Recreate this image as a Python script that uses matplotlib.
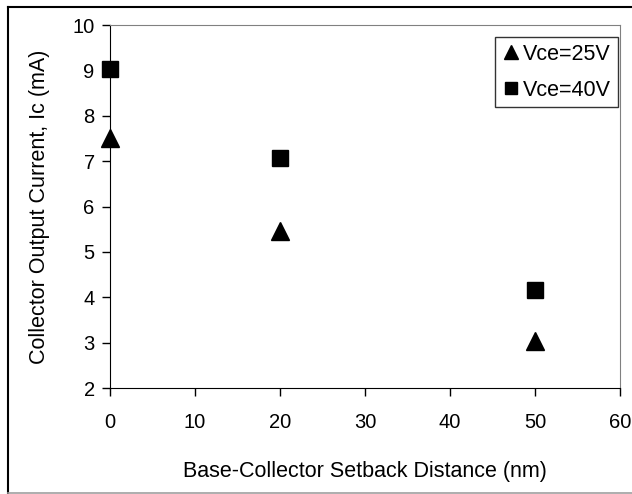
import matplotlib.pyplot as plt
from matplotlib.lines import Line2D

# --- datos ---
setback_nm = [0, 20, 50]
ic_25v = [7.52, 5.46, 3.04]
ic_40v = [9.02, 7.07, 4.15]

plt.rcParams['font.family'] = ['Liberation Sans', 'DejaVu Sans']
fs_ticks = 14.5
fs_label = 15.5

fig = plt.figure(figsize=(6.32, 4.94), dpi=100)
# marco exterior (izquierda y arriba negro, abajo gris; derecha fuera de la imagen)
W, H = 632, 494
fig.lines.append(Line2D([7.5 / W, 7.5 / W], [0.5 / H, 1 - 7.5 / H], transform=fig.transFigure,
                        color='black', linewidth=1.5))
fig.lines.append(Line2D([7.5 / W, 1], [1 - 7.5 / H, 1 - 7.5 / H], transform=fig.transFigure,
                        color='black', linewidth=1.5))
fig.lines.append(Line2D([7.5 / W, 1], [1 - 493 / H, 1 - 493 / H], transform=fig.transFigure,
                        color='#a0a0a0', linewidth=1.2))

ax = fig.add_axes([110 / W, 1 - 388 / H, 510 / W, 363 / H])
ax.plot(setback_nm, ic_25v, linestyle='none', marker='^', markersize=13,
        color='black', label='Vce=25V', clip_on=False)
ax.plot(setback_nm, ic_40v, linestyle='none', marker='s', markersize=11,
        color='black', label='Vce=40V', clip_on=False)

ax.set_xlim(0, 60)
ax.set_ylim(2, 10)
ax.set_xticks(range(0, 61, 10))
ax.set_yticks(range(2, 11, 1))
ax.tick_params(direction='out', length=6, width=1, labelsize=fs_ticks)
ax.tick_params(axis='x', pad=12)
ax.tick_params(axis='y', pad=5)

for s in ['top', 'right']:
    ax.spines[s].set_color('#808080')
for s in ['left', 'bottom']:
    ax.spines[s].set_color('black')

ax.set_xlabel('Base-Collector Setback Distance (nm)', fontsize=fs_label, labelpad=21)
ax.set_ylabel('Collector Output Current, Ic (mA)', fontsize=fs_label, labelpad=16)

leg = ax.legend(loc='upper right', bbox_to_anchor=(0.9961, 0.968), fontsize=fs_label,
                frameon=True, fancybox=False, edgecolor='black', handletextpad=0.1,
                handlelength=0.9, borderpad=0.32, labelspacing=0.7, markerscale=0.8,
                borderaxespad=0, handleheight=0.7)
leg.get_frame().set_linewidth(1)

fig.savefig('out.png', dpi=100)
